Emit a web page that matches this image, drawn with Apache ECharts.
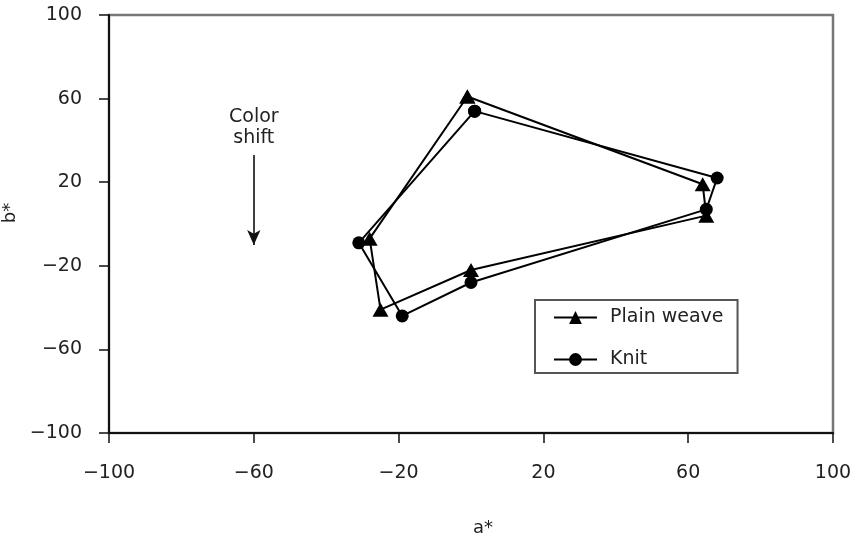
<!DOCTYPE html>
<html>
<head>
<meta charset="utf-8">
<script src="https://cdn.jsdelivr.net/npm/echarts@6/dist/echarts.min.js"></script>
<style>
  html, body { margin: 0; padding: 0; background: #fff; }
  #chart { width: 859px; height: 542px; }
</style>
</head>
<body>
<div id="chart"></div>
<script>
// CIELAB a*/b* coordinates of the colour shift loop for each fabric type
const plainWeave = [[-1, 61], [64, 19], [65, 4], [0, -22], [-25, -41], [-28, -7]];
const knit = [[1, 54], [68, 22], [65, 7], [0, -28], [-19, -44], [-31, -9]];
const seriesNames = ['Plain weave', 'Knit'];
const axisTicks = [-100, -60, -20, 20, 60, 100];
const shiftArrow = [[-60, 33], [-60, -10]];
const shiftLabelAt = [-60, 46];

const FONT = 'DejaVu Sans';
const FONT_SIZE = 19;
const TEXT = '#222';

// close each loop back onto its first point
const closeLoop = pts => pts.concat([pts[0]]);
const minus = v => String(v).replace('-', '\u2212');

const chart = echarts.init(document.getElementById('chart'), null, { renderer: 'canvas' });

const valueAxis = (name, isX) => ({
  type: 'value',
  min: axisTicks[0],
  max: axisTicks[axisTicks.length - 1],
  interval: 40,
  name: name,
  nameLocation: 'middle',
  nameGap: isX ? 86 : 81,
  nameTextStyle: {
    fontFamily: FONT, fontSize: 18, color: TEXT,
    padding: isX ? [0, 0, 0, 24] : [0, 0, 0, 22]
  },
  axisLine: { show: true, onZero: false, lineStyle: { color: '#111', width: 2 } },
  axisTick: { show: true, inside: false, length: 10, lineStyle: { color: '#111', width: 1.5 } },
  axisLabel: {
    fontFamily: FONT, fontSize: FONT_SIZE, color: TEXT,
    margin: isX ? 31 : 27,
    formatter: minus
  },
  splitLine: { show: false }
});

chart.setOption({
  animation: false,
  backgroundColor: '#fff',
  grid: {
    left: 109, right: 26, top: 15, bottom: 109,
    containLabel: false,
    outerBoundsMode: 'none',
    show: true, borderColor: '#777', borderWidth: 2.5, backgroundColor: 'transparent'
  },
  xAxis: valueAxis('a*', true),
  yAxis: valueAxis('b*', false),
  legend: {
    data: seriesNames,
    orient: 'vertical',
    left: 535, top: 300,
    padding: [8, 14, 4, 18],
    itemGap: 23,
    itemWidth: 43,
    itemHeight: 16,
    borderColor: '#555', borderWidth: 2,
    backgroundColor: '#fff',
    textStyle: { fontFamily: FONT, fontSize: FONT_SIZE, color: TEXT, padding: [0, 0, 0, 8] }
  },
  series: [
    {
      name: seriesNames[0],
      type: 'line',
      data: closeLoop(plainWeave),
      symbol: 'triangle',
      symbolSize: [16, 14],
      itemStyle: { color: '#000' },
      lineStyle: { color: '#000', width: 2 }
    },
    {
      name: seriesNames[1],
      type: 'line',
      data: closeLoop(knit),
      symbol: 'circle',
      symbolSize: 13,
      itemStyle: { color: '#000' },
      lineStyle: { color: '#000', width: 2 }
    },
    {
      name: 'annotation',
      type: 'scatter',
      data: [],
      silent: true,
      markLine: {
        silent: true,
        symbol: ['none', 'arrow'],
        symbolSize: [10, 15],
        label: { show: false },
        lineStyle: { color: '#111', width: 1.6, type: 'solid' },
        data: [[{ coord: shiftArrow[0] }, { coord: shiftArrow[1] }]]
      },
      markPoint: {
        silent: true,
        symbol: 'rect',
        symbolSize: 1,
        itemStyle: { color: 'rgba(0,0,0,0)' },
        label: {
          show: true, position: 'inside',
          formatter: 'Color\nshift',
          fontFamily: FONT, fontSize: FONT_SIZE, lineHeight: 21, color: TEXT, align: 'center'
        },
        data: [{ coord: shiftLabelAt }]
      }
    }
  ]
});
</script>
</body>
</html>
